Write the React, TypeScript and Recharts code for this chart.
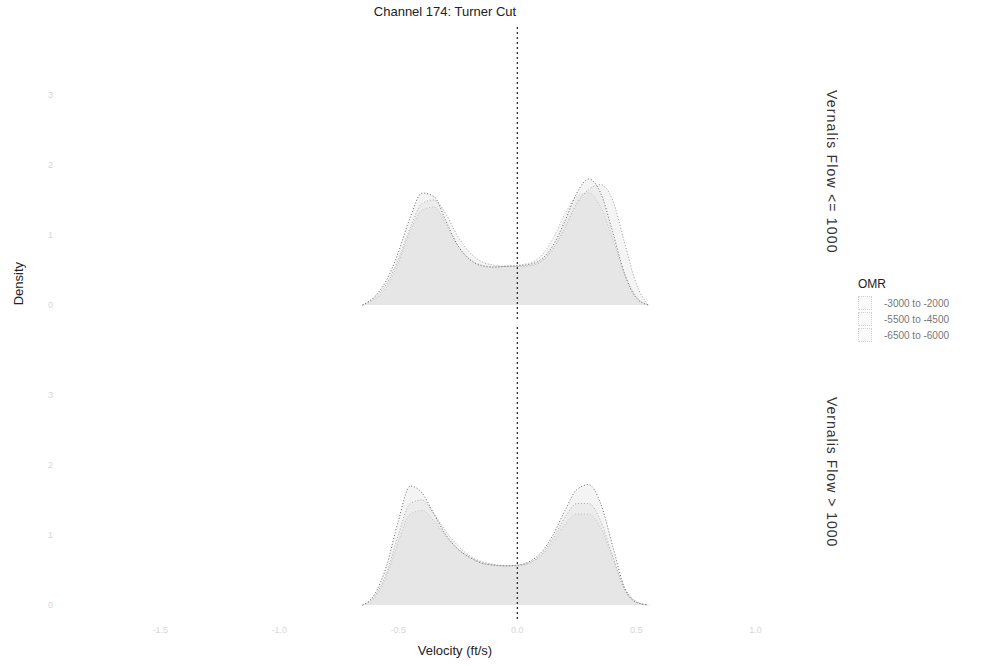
import { AreaChart, Area, XAxis, YAxis, ReferenceLine } from "recharts";

// velocity grid (ft/s)
const velocity = [
  -0.65, -0.6, -0.55, -0.5, -0.45, -0.4, -0.35, -0.3, -0.25, -0.2, -0.15, -0.1,
  -0.05, 0, 0.05, 0.1, 0.15, 0.2, 0.25, 0.3, 0.35, 0.4, 0.45, 0.5, 0.55,
];

const omrGroups = ["-3000 to -2000", "-5500 to -4500", "-6500 to -6000"];

// Vernalis Flow <= 1000
const lowFlow1 = [0, 0.12, 0.35, 0.75, 1.25, 1.6, 1.55, 1.2, 0.85, 0.65, 0.56, 0.54, 0.55, 0.56, 0.58, 0.65, 0.85, 1.2, 1.6, 1.8, 1.6, 1.05, 0.45, 0.1, 0];
const lowFlow2 = [0, 0.1, 0.3, 0.65, 1.1, 1.45, 1.5, 1.3, 0.98, 0.75, 0.62, 0.57, 0.55, 0.55, 0.56, 0.62, 0.8, 1.1, 1.45, 1.65, 1.72, 1.5, 0.9, 0.3, 0];
const lowFlow3 = [0, 0.08, 0.25, 0.6, 1.05, 1.35, 1.4, 1.15, 0.85, 0.66, 0.57, 0.55, 0.56, 0.57, 0.6, 0.7, 0.95, 1.3, 1.55, 1.6, 1.4, 0.95, 0.45, 0.12, 0];

// Vernalis Flow > 1000
const highFlow1 = [0, 0.15, 0.55, 1.2, 1.7, 1.6, 1.3, 1.0, 0.8, 0.68, 0.6, 0.57, 0.56, 0.57, 0.62, 0.75, 1.0, 1.35, 1.65, 1.72, 1.45, 0.85, 0.25, 0.04, 0];
const highFlow2 = [0, 0.12, 0.45, 1.0, 1.45, 1.5, 1.3, 1.05, 0.85, 0.7, 0.62, 0.58, 0.56, 0.56, 0.6, 0.72, 0.95, 1.25, 1.45, 1.45, 1.2, 0.7, 0.22, 0.04, 0];
const highFlow3 = [0, 0.1, 0.4, 0.9, 1.3, 1.35, 1.2, 0.98, 0.8, 0.68, 0.6, 0.57, 0.56, 0.57, 0.6, 0.7, 0.9, 1.15, 1.3, 1.3, 1.1, 0.68, 0.25, 0.05, 0];

const xTicks = [-1.5, -1.0, -0.5, 0, 0.5, 1.0];
const yTicks = [0, 1, 2, 3];

const font = "'Liberation Sans', Arial, sans-serif";

const buildRows = (a: number[], b: number[], c: number[]) =>
  velocity.map((v, i) => ({ velocity: v, g1: a[i], g2: b[i], g3: c[i] }));

const lowRows = buildRows(lowFlow1, lowFlow2, lowFlow3);
const highRows = buildRows(highFlow1, highFlow2, highFlow3);

const strokes = ["#6a6a6a", "#9c9c9c", "#b4b4b4"];

interface PanelProps {
  data: Record<string, number>[];
  top: number;
  showX: boolean;
}

const Panel = ({ data, top, showX }: PanelProps) => (
  <div style={{ position: "absolute", left: 0, top }}>
    <AreaChart
      width={830}
      height={showX ? 319 : 294}
      data={data}
      margin={{ top: 0, right: 27, left: 0, bottom: 0 }}
    >
      <XAxis
        type="number"
        dataKey="velocity"
        domain={[-1.9, 1.2]}
        ticks={xTicks}
        allowDataOverflow
        hide={!showX}
        height={25}
        axisLine={false}
        tickLine={false}
        tickFormatter={(v: number) => v.toFixed(1)}
        tick={{ fill: "#d6d6d6", fontSize: 9, fontFamily: font }}
      />
      <YAxis
        type="number"
        domain={[-0.2, 4]}
        ticks={yTicks}
        allowDataOverflow
        width={65}
        axisLine={false}
        tickLine={false}
        tickMargin={6}
        tick={{ fill: "#d6d6d6", fontSize: 9, fontFamily: font }}
      />
      {["g3", "g2", "g1"].map((k, i) => (
        <Area
          key={k}
          type="monotone"
          dataKey={k}
          stroke={strokes[2 - i]}
          strokeWidth={1}
          strokeDasharray="1 2"
          fill="#d4d4d4"
          fillOpacity={0.25}
          isAnimationActive={false}
          dot={false}
          activeDot={false}
        />
      ))}
      <ReferenceLine x={0} stroke="#222" strokeWidth={1.2} strokeDasharray="2 3" />
    </AreaChart>
  </div>
);

const stripStyle = {
  position: "absolute" as const,
  left: 824,
  height: 294,
  display: "flex",
  alignItems: "center",
  justifyContent: "center",
  writingMode: "vertical-rl" as const,
  fontSize: 14,
  color: "#333",
};

const App = () => {
  return (
    <div
      style={{
        position: "absolute",
        left: 0,
        top: 0,
        width: 988,
        height: 666,
        background: "#fff",
        fontFamily: font,
        color: "#222",
      }}
    >
      <div style={{ position: "absolute", left: 0, width: 890, top: 4, textAlign: "center", fontSize: 13 }}>
        Channel 174: Turner Cut
      </div>
      <Panel data={lowRows} top={25} showX={false} />
      <Panel data={highRows} top={325} showX={true} />
      <div
        style={{
          position: "absolute",
          left: 11,
          top: 262,
          writingMode: "vertical-rl",
          transform: "rotate(180deg)",
          fontSize: 13,
        }}
      >
        Density
      </div>
      <div style={{ position: "absolute", left: 0, width: 910, top: 643, textAlign: "center", fontSize: 13 }}>
        Velocity (ft/s)
      </div>
      <div style={{ ...stripStyle, top: 25, letterSpacing: 1.2 }}>Vernalis Flow &lt;= 1000</div>
      <div style={{ ...stripStyle, top: 325, letterSpacing: 1.0 }}>Vernalis Flow &gt; 1000</div>
      <div style={{ position: "absolute", left: 858, top: 277 }}>
        <div style={{ fontSize: 12, marginBottom: 4 }}>OMR</div>
        {omrGroups.map((g) => (
          <div key={g} style={{ display: "flex", alignItems: "center", height: 16 }}>
            <span
              style={{
                display: "inline-block",
                width: 14,
                height: 14,
                marginRight: 12,
                background: "#f7f7f7",
                border: `1px dotted ${strokes[2]}`,
                boxSizing: "border-box",
                opacity: 0.6,
              }}
            />
            <span style={{ fontSize: 10, color: "#777" }}>{g}</span>
          </div>
        ))}
      </div>
    </div>
  );
};

export default App;
